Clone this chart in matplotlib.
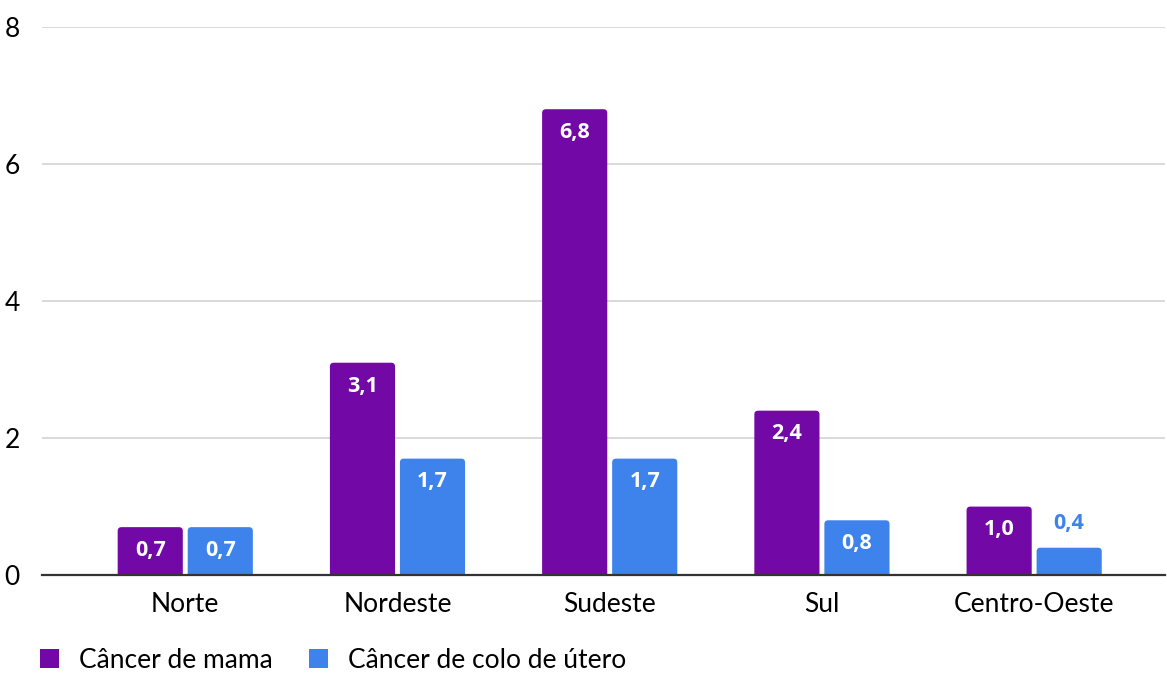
import matplotlib
matplotlib.use("Agg")
import matplotlib.pyplot as plt
from matplotlib.patches import FancyBboxPatch, Patch

regions = ["Norte", "Nordeste", "Sudeste", "Sul", "Centro-Oeste"]
mama = [0.7, 3.1, 6.8, 2.4, 1.0]
colo = [0.7, 1.7, 1.7, 0.8, 0.4]
series_names = ["Câncer de mama", "Câncer de colo de útero"]
yticks = [0, 2, 4, 6, 8]

PURPLE = "#7209A7"
BLUE = "#3E83EC"

plt.rcParams["font.family"] = ["Lato", "DejaVu Sans"]

fig = plt.figure(figsize=(11.67, 6.75), dpi=100)
ax = fig.add_axes([0.036, 0.148, 0.962, 0.812])

width = 0.307
offset = 0.165
x = list(range(len(regions)))
xlo, xhi = -0.675, 4.615
ax.set_xlim(xlo, xhi)
ax.set_ylim(0, 8)

bars_m = ax.bar([i - offset for i in x], mama, width, color=PURPLE)
bars_c = ax.bar([i + offset for i in x], colo, width, color=BLUE)

# swap plain rectangles for ones with rounded top corners
aspect = (8 / (0.812 * 675)) / ((xhi - xlo) / (0.962 * 1167))
r = 0.018
for bars in (bars_m, bars_c):
    for rect in bars:
        bx, bw, bh = rect.get_x(), rect.get_width(), rect.get_height()
        fb = FancyBboxPatch((bx, -r * aspect), bw, bh + r * aspect,
                            boxstyle=f"round,pad=0,rounding_size={r}",
                            mutation_aspect=aspect,
                            facecolor=rect.get_facecolor(), edgecolor="none",
                            zorder=3, clip_on=True)
        ax.add_patch(fb)
        rect.remove()

# value labels
lab_font = dict(family=["Open Sans", "DejaVu Sans"], fontsize=15.5, fontweight="bold")
for vals, pos, col in ((mama, [i - offset for i in x], PURPLE),
                       (colo, [i + offset for i in x], BLUE)):
    for v, p in zip(vals, pos):
        txt = f"{v:.1f}".replace(".", ",")
        if v >= 0.6:
            ax.text(p, v - 0.34, txt, ha="center", va="center", color="white",
                    zorder=4, **lab_font)
        else:
            ax.text(p, v + 0.36, txt, ha="center", va="center", color=col,
                    zorder=4, **lab_font)

ax.set_yticks(yticks)
ax.set_yticklabels([str(t) for t in yticks])
ax.set_xticks(x)
ax.set_xticklabels(regions)
ax.tick_params(axis="both", length=0, labelsize=19, colors="black")
ax.tick_params(axis="y", pad=16)
ax.tick_params(axis="x", pad=12)

ax.grid(axis="y", color="#d3d3d3", linewidth=1.2, zorder=0)
ax.set_axisbelow(True)
for s in ("top", "right", "left"):
    ax.spines[s].set_visible(False)
ax.spines["bottom"].set_color("#333333")
ax.spines["bottom"].set_linewidth(1.6)
ax.spines["bottom"].set_zorder(5)

handles = [Patch(facecolor=PURPLE, edgecolor="none"),
           Patch(facecolor=BLUE, edgecolor="none")]
fig.legend(handles, series_names, loc="center left",
           bbox_to_anchor=(0.034, 0.022), ncol=2, frameon=False,
           fontsize=19, handlelength=0.75, handleheight=0.75,
           handletextpad=0.75, columnspacing=1.35, borderaxespad=0,
           borderpad=0)

fig.savefig("out.png", dpi=100)
